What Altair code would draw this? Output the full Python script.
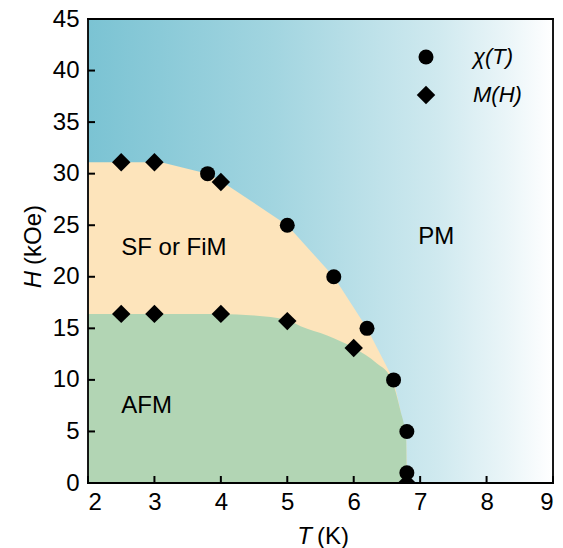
import altair as alt
import pandas as pd

# ---- data -------------------------------------------------------------
# chi(T) transition points
chi_T = [3.8, 5.0, 5.7, 6.2, 6.6, 6.8, 6.8]
chi_H = [30.0, 25.0, 20.0, 15.0, 10.0, 5.0, 1.0]

# M(H) transition points
mh_T = [2.5, 3.0, 4.0, 2.5, 3.0, 4.0, 5.0, 6.0, 6.8]
mh_H = [31.1, 31.1, 29.2, 16.4, 16.4, 16.4, 15.7, 13.1, 0.0]

# phase boundaries
sf_T = [2.0, 3.1, 3.8, 4.0, 5.0, 5.7, 6.2, 6.6, 6.7, 6.79, 6.8]
sf_H = [31.1, 31.1, 30.0, 29.3, 25.0, 20.0, 15.0, 10.0, 7.1, 4.2, 0.0]

afm_T = [2.0, 3.0, 4.0, 4.5, 5.0, 5.2, 5.6, 6.0, 6.35, 6.55, 6.7, 6.79, 6.8]
afm_H = [16.4, 16.4, 16.4, 16.25, 15.8, 15.2, 14.3, 13.1, 11.6, 10.3, 7.1, 4.2, 0.0]

series_names = ["χ(T)", "M(H)"]
region_names = ["SF or FiM", "AFM", "PM"]

T_RANGE = [2, 9]
H_RANGE = [0, 45]
T_TICKS = [2, 3, 4, 5, 6, 7, 8, 9]
H_TICKS = [0, 5, 10, 15, 20, 25, 30, 35, 40, 45]

# ---- layout / style -----------------------------------------------------
W, H = 465, 464
FONT = "Liberation Sans"
FS = 24
ORANGE = "#fde4bb"
GREEN = "#b2d5b4"

# pixel sizes converted to data units of each axis
T_PER_PX = (T_RANGE[1] - T_RANGE[0]) / W
H_PER_PX = (H_RANGE[1] - H_RANGE[0]) / H
TICK_LEN = 7      # px
TICK_HALF = 1.0   # px, half of tick width
EDGE_HALF = 0.9   # px, half of frame line width

xs = alt.Scale(domain=T_RANGE, nice=False, zero=False)
ys = alt.Scale(domain=H_RANGE, nice=False, zero=False)

points = pd.concat([
    pd.DataFrame({"T": chi_T, "H": chi_H, "series": series_names[0]}),
    pd.DataFrame({"T": mh_T, "H": mh_H, "series": series_names[1]}),
], ignore_index=True)

frame_df = pd.DataFrame({"t0": [T_RANGE[0]], "t1": [T_RANGE[1]],
                         "h0": [H_RANGE[0]], "h1": [H_RANGE[1]]})

# frame edges and inward ticks, drawn as thin filled rectangles
et = EDGE_HALF * T_PER_PX
eh = EDGE_HALF * H_PER_PX
t_lo, t_hi = T_RANGE
h_lo, h_hi = H_RANGE
bars = [
    (t_lo - et, t_hi + et, h_lo - eh, h_lo + eh),   # bottom
    (t_lo - et, t_hi + et, h_hi - eh, h_hi + eh),   # top
    (t_lo - et, t_lo + et, h_lo - eh, h_hi + eh),   # left
    (t_hi - et, t_hi + et, h_lo - eh, h_hi + eh),   # right
]
for v in T_TICKS:
    bars.append((v - TICK_HALF * T_PER_PX, v + TICK_HALF * T_PER_PX,
                 h_lo, h_lo + TICK_LEN * H_PER_PX))
for v in H_TICKS:
    bars.append((t_lo, t_lo + TICK_LEN * T_PER_PX,
                 v - TICK_HALF * H_PER_PX, v + TICK_HALF * H_PER_PX))
bars_df = pd.DataFrame(bars, columns=["t0", "t1", "h0", "h1"])

axis_style = dict(
    format="d", ticks=False, domain=False, grid=False, labelFont=FONT,
    labelFontSize=FS, labelColor="black", title=None,
)
x_axis = alt.Axis(values=T_TICKS, labelPadding=7, **axis_style)
y_axis = alt.Axis(values=H_TICKS, labelPadding=9, **axis_style)

# horizontal teal-to-white background
background = alt.Chart(frame_df).mark_rect(
    color=alt.Gradient(
        gradient="linear", x1=0, x2=1, y1=0, y2=0,
        stops=[
            alt.GradientStop(color="#7bc3d3", offset=0),
            alt.GradientStop(color="#a2d5e0", offset=0.4),
            alt.GradientStop(color="#cfe9ef", offset=0.75),
            alt.GradientStop(color="#eaf5f8", offset=0.9),
            alt.GradientStop(color="#ffffff", offset=1),
        ],
    )
).encode(
    x=alt.X("t0:Q", scale=xs, axis=x_axis),
    x2="t1:Q",
    y=alt.Y("h0:Q", scale=ys, axis=y_axis),
    y2="h1:Q",
)

sf_area = alt.Chart(pd.DataFrame({"T": sf_T, "H": sf_H})).mark_area(
    color=ORANGE, interpolate="linear", orient="vertical",
).encode(x=alt.X("T:Q", scale=xs), y=alt.Y("H:Q", scale=ys))

afm_area = alt.Chart(pd.DataFrame({"T": afm_T, "H": afm_H})).mark_area(
    color=GREEN, interpolate="monotone", orient="vertical",
).encode(x=alt.X("T:Q", scale=xs), y=alt.Y("H:Q", scale=ys))

legend = alt.Legend(
    title=None, orient="none", legendX=327, legendY=27, padding=0,
    labelFont=FONT, labelFontSize=22, labelFontStyle="italic",
    labelColor="black", labelOffset=36, rowPadding=14,
    symbolFillColor="black", symbolOpacity=1,
)

pts = alt.Chart(points).mark_point(filled=True, opacity=1, color="black",
                                   clip=True).encode(
    x=alt.X("T:Q", scale=xs),
    y=alt.Y("H:Q", scale=ys),
    shape=alt.Shape("series:N", sort=series_names,
                    scale=alt.Scale(domain=series_names, range=["circle", "diamond"]),
                    legend=legend),
    size=alt.Size("series:N", sort=series_names,
                  scale=alt.Scale(domain=series_names, range=[225, 340]),
                  legend=legend),
)

labels_df = pd.DataFrame({"label": region_names,
                          "T": [2.5, 2.5, 6.97],
                          "H": [22.1, 6.8, 23.2]})
labels = alt.Chart(labels_df).mark_text(
    align="left", baseline="alphabetic", font=FONT, fontSize=FS, color="black"
).encode(x=alt.X("T:Q", scale=xs), y=alt.Y("H:Q", scale=ys), text="label:N")

frame = alt.Chart(bars_df).mark_rect(color="black").encode(
    x=alt.X("t0:Q", scale=xs), x2="t1:Q",
    y=alt.Y("h0:Q", scale=ys), y2="h1:Q",
)


# axis titles with italic variable symbols
def title_part(text, x, y, align, style, angle=0):
    return alt.Chart(pd.DataFrame({"s": [text]})).mark_text(
        align=align, baseline="alphabetic", font=FONT, fontSize=FS,
        fontStyle=style, color="black", angle=angle,
    ).encode(text="s:N", x=alt.value(x), y=alt.value(y))


xt1 = title_part("T", 224, 525, "right", "italic")
xt2 = title_part("(K)", 229, 525, "left", "normal")
yt1 = title_part("H", -47, 252, "right", "italic", angle=270)
yt2 = title_part("(kOe)", -47, 246, "left", "normal", angle=270)

chart = alt.layer(
    background, sf_area, afm_area, pts, labels, frame,
    xt1, xt2, yt1, yt2,
).properties(
    width=W, height=H,
    padding={"left": 88, "top": 19, "right": 10, "bottom": 65},
    autosize="none",
)

chart.save("out.html", embed_options={"renderer": "svg", "actions": False})
